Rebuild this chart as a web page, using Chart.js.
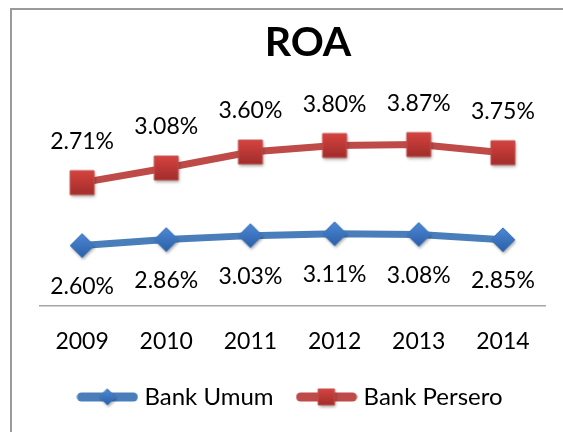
<!DOCTYPE html>
<html>
<head>
<meta charset="utf-8">
<title>ROA</title>
<script src="https://cdn.jsdelivr.net/npm/chart.js@4.4.1/dist/chart.umd.min.js"></script>
<style>
  html, body { margin: 0; padding: 0; background: #fff; overflow: hidden; }
  #frame {
    position: absolute; left: 10px; top: 8px; width: 700px; height: 600px;
    border-left: 2px solid #9a9a9a; border-top: 2px solid #9a9a9a;
  }
  #roaChart { position: absolute; left: 0; top: 0; }
</style>
</head>
<body>
<div id="frame"></div>
<canvas id="roaChart" width="616" height="432"></canvas>
<script>
const years = ['2009', '2010', '2011', '2012', '2013', '2014'];
const bankUmum = [2.60, 2.86, 3.03, 3.11, 3.08, 2.85];
const bankPersero = [2.71, 3.08, 3.60, 3.80, 3.87, 3.75];
const seriesNames = ['Bank Umum', 'Bank Persero'];

const blue = '#4a7ebb';
const red = '#be4b48';

// marker images (diamond / square with a bit of gradient + shadow, like excel)
function makeIcon(kind, withLine) {
    const c = document.createElement('canvas');
    const w = withLine ? 62 : 34;
    const h = withLine ? 24 : 34;
    c.width = w;
    c.height = h;
    const g = c.getContext('2d');
    const cx = w / 2, cy = h / 2;
    const s = withLine ? 8 : 12;

    if (withLine) {
        g.strokeStyle = kind === 'diamond' ? blue : red;
        g.lineWidth = 9;
        g.lineCap = 'round';
        g.beginPath();
        g.moveTo(5, cy);
        g.lineTo(w - 5, cy);
        g.stroke();
    }

    const grad = g.createLinearGradient(0, cy - s, 0, cy + s);
    g.beginPath();
    if (kind === 'diamond') {
        grad.addColorStop(0, '#4d88d4');
        grad.addColorStop(1, '#2c60a8');
        g.moveTo(cx, cy - s);
        g.lineTo(cx + s, cy);
        g.lineTo(cx, cy + s);
        g.lineTo(cx - s, cy);
    } else {
        grad.addColorStop(0, '#d6433f');
        grad.addColorStop(1, '#a02d2b');
        g.rect(cx - s, cy - s, 2 * s, 2 * s);
    }
    g.closePath();
    g.save();
    g.shadowColor = 'rgba(0,0,0,0.35)';
    g.shadowBlur = 3;
    g.shadowOffsetX = 1;
    g.shadowOffsetY = 2;
    g.fillStyle = grad;
    g.fill();
    g.restore();
    g.strokeStyle = kind === 'diamond' ? '#3f76bc' : '#c4504d';
    g.lineWidth = 1;
    g.stroke();
    return c;
}

const pointIcons = [makeIcon('diamond', false), makeIcon('square', false)];
const legendIcons = [makeIcon('diamond', true), makeIcon('square', true)];

// value labels: umum below the point, persero above
const pointLabels = {
    id: 'pointLabels',
    afterDatasetsDraw(chart) {
        const ctx = chart.ctx;
        ctx.save();
        ctx.font = '23px Lato';
        ctx.fillStyle = '#000';
        ctx.textAlign = 'center';
        ctx.textBaseline = 'middle';
        chart.data.datasets.forEach((ds, i) => {
            const meta = chart.getDatasetMeta(i);
            meta.data.forEach((pt, j) => {
                const dy = i === 0 ? 41 : -41;
                ctx.fillText(ds.data[j].toFixed(2) + '%', pt.x, pt.y + dy);
            });
        });
        ctx.restore();
    }
};

function createChart() {
    const ctx = document.getElementById('roaChart').getContext('2d');

    new Chart(ctx, {
        type: 'line',
        data: {
            labels: years,
            datasets: [{
                label: seriesNames[0],
                data: bankUmum,
                borderColor: blue,
                backgroundColor: blue,
                borderWidth: 7,
                pointStyle: pointIcons[0],
                pointRadius: 12,
                fill: false,
            }, {
                label: seriesNames[1],
                data: bankPersero,
                borderColor: red,
                backgroundColor: red,
                borderWidth: 7,
                pointStyle: pointIcons[1],
                pointRadius: 12,
                fill: false,
            }]
        },
        options: {
            responsive: false,
            animation: false,
            layout: { padding: { left: 10, right: 10, top: 0, bottom: 13 } },
            scales: {
                x: {
                    offset: true,
                    grid: { display: false, drawTicks: false },
                    border: { color: '#a6a6a6', width: 1.5 },
                    ticks: { padding: 22, color: '#000', font: { family: 'Lato', size: 23 } },
                    afterFit: s => { s.height = 51; },
                },
                y: {
                    stacked: true,
                    min: 0,
                    max: 8,
                    ticks: { display: false },
                    grid: { display: false },
                    border: { display: false },
                    afterFit: s => { s.width = 30; },
                },
                yRight: {
                    position: 'right',
                    ticks: { display: false },
                    grid: { display: false },
                    border: { display: false },
                    afterFit: s => { s.width = 61; },
                },
            },
            plugins: {
                title: {
                    display: true,
                    text: 'ROA',
                    color: '#000',
                    font: { family: 'Lato', size: 41, weight: 'bold', lineHeight: 1.2 },
                    padding: { top: 18, bottom: 53 },
                },
                legend: {
                    position: 'bottom',
                    fullSize: false,
                    labels: {
                        usePointStyle: true,
                        pointStyleWidth: 50,
                        padding: 28,
                        color: '#000',
                        font: { family: 'Lato', size: 24 },
                        generateLabels(chart) {
                            const items = Chart.defaults.plugins.legend.labels.generateLabels(chart);
                            items.forEach((it, i) => { it.pointStyle = legendIcons[i]; });
                            return items;
                        },
                    },
                },
                tooltip: { enabled: false },
            },
        },
        plugins: [pointLabels],
    });
}

Promise.all([
    document.fonts.load('23px Lato'),
    document.fonts.load('bold 41px Lato'),
]).then(createChart, createChart);
</script>
</body>
</html>
